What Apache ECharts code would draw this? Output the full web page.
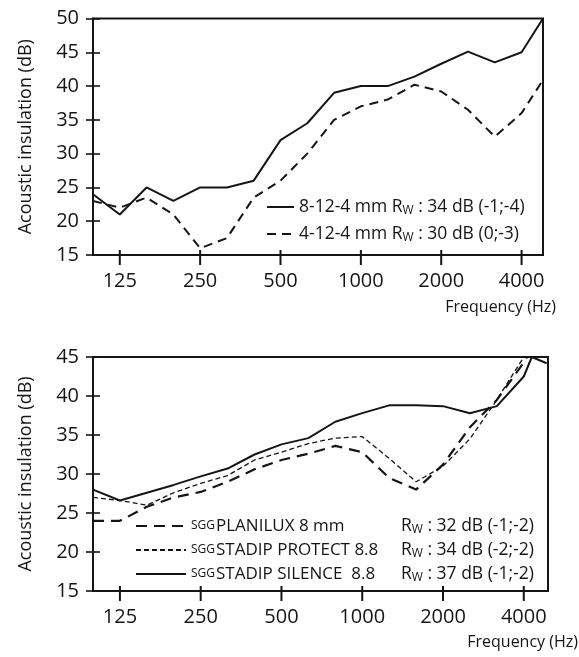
<!DOCTYPE html>
<html>
<head>
<meta charset="utf-8">
<title>Acoustic insulation</title>
<script src="https://cdn.jsdelivr.net/npm/echarts@6/dist/echarts.min.js"></script>
<style>
    html, body { margin: 0; padding: 0; background: #fff; }
    #chart { width: 579px; height: 657px; }
</style>
</head>
<body>
<div id="chart"></div>
<script>
    // third-octave bands on x: 0 = 100 Hz, 1 = 125 Hz ... 16 = 4000 Hz
    var bandPos = [0, 1, 2, 3, 4, 5, 6, 7, 8, 9, 10, 11, 12, 13, 14, 15, 16];
    var tickPos = [1, 4, 7, 10, 13, 16];
    var tickLabels = ['125', '250', '500', '1000', '2000', '4000'];

    // upper chart (last point sits on the right frame)
    var topPos = bandPos.concat([16.8]);
    var glass8124 = [24, 21, 25, 23, 25, 25, 26, 32, 34.5, 39, 40, 40, 41.4, 43.3, 45.1, 43.5, 45, 50];
    var glass4124 = [23, 22, 23.5, 21, 16, 17.5, 23.5, 26, 30, 35, 37, 38, 40.2, 39.2, 36.5, 32.5, 36, 40.9];
    var topNames = ['8-12-4 mm', '4-12-4 mm'];
    var topRw = ['34 dB (-1;-4)', '30 dB (0;-3)'];

    // lower chart
    var planilux = [24, 24, 25.8, 27, 27.7, 29, 30.6, 31.8, 32.6, 33.6, 32.8, 29.5, 28, 31.2, 36, 39.5, 44.3];
    var protect = [27, 26.6, 26, 27.6, 28.8, 29.8, 31.8, 32.8, 33.9, 34.6, 34.8, 32, 29, 31, 34.5, 39.5, 45];
    var silence = [28, 26.6, 27.6, 28.6, 29.7, 30.7, 32.5, 33.8, 34.6, 36.7, 37.8, 38.8, 38.8, 38.7, 37.8, 38.7, 42.5];
    var planiluxEnd = [[16.12, 45]];
    var silenceEnd = [[16.3, 45], [16.85, 44.2]];
    var botNames = ['PLANILUX 8 mm', 'STADIP PROTECT 8.8', 'STADIP SILENCE  8.8'];
    var botRw = ['32 dB (-1;-2)', '34 dB (-2;-2)', '37 dB (-1;-2)'];

    var FONT = "'Open Sans', 'DejaVu Sans', sans-serif";
    var INK = '#151515';

    function zip(xs, ys) {
        return ys.map(function (y, i) { return [xs[i], y]; });
    }

    function xAxis(gridIndex, max, nameGap, namePad) {
        return {
            type: 'value', gridIndex: gridIndex, position: 'bottom', min: 0, max: max,
            name: 'Frequency (Hz)', nameLocation: 'end', nameGap: nameGap,
            nameTextStyle: {
                color: INK, fontFamily: FONT, fontSize: 16,
                align: 'right', verticalAlign: 'top', padding: [namePad, 0, 0, 0]
            },
            axisLine: {onZero: false, lineStyle: {color: INK, width: 2}},
            axisTick: {show: false},
            axisLabel: {
                customValues: tickPos, margin: 16, color: INK, fontFamily: FONT, fontSize: 20,
                formatter: function (v) { return tickLabels[tickPos.indexOf(v)]; }
            },
            splitLine: {show: false}
        };
    }

    // two y axes per grid: outer ticks + labels, then inner ticks
    function yAxes(gridIndex, min, max) {
        return [{
            type: 'value', gridIndex: gridIndex, position: 'left', min: min, max: max, interval: 5,
            name: 'Acoustic insulation (dB)', nameLocation: 'middle', nameGap: 58,
            nameTextStyle: {color: INK, fontFamily: FONT, fontSize: 18},
            axisLine: {show: true, onZero: false, lineStyle: {color: INK, width: 2}},
            axisTick: {show: true, length: 7, lineStyle: {color: INK, width: 1.6}},
            axisLabel: {margin: 14, color: INK, fontFamily: FONT, fontSize: 20},
            splitLine: {show: false}
        }, {
            type: 'value', gridIndex: gridIndex, position: 'left', min: min, max: max, interval: 5,
            axisLine: {show: false},
            axisTick: {show: true, inside: true, length: 7, lineStyle: {color: INK, width: 1.6}},
            axisLabel: {show: false},
            splitLine: {show: false}
        }];
    }

    function line(name, data, gi, width, type) {
        return {
            type: 'line', name: name, xAxisIndex: gi, yAxisIndex: gi * 2, data: data,
            symbol: 'none', silent: true,
            lineStyle: {color: INK, width: width, type: type},
            itemStyle: {color: INK}
        };
    }

    // frequency ticks crossing the x axis line (5 px in, 10 px out)
    function xTicks(gi) {
        return {
            type: 'custom', name: 'ticks' + gi, xAxisIndex: gi, yAxisIndex: gi * 2,
            silent: true, clip: false, z: 5,
            data: tickPos.map(function (p) { return [p, 15]; }),
            renderItem: function (params, api) {
                var pt = api.coord([api.value(0), api.value(1)]);
                return {
                    type: 'line',
                    shape: {x1: pt[0], y1: pt[1] - 5, x2: pt[0], y2: pt[1] + 10},
                    style: {stroke: INK, lineWidth: 2}
                };
            }
        };
    }

    var richBase = {color: INK, fontFamily: FONT};
    var noDot = {color: 'rgba(0,0,0,0)', borderWidth: 0};

    var chart = echarts.init(document.getElementById('chart'));
    chart.setOption({
        animation: false,
        backgroundColor: '#fff',
        grid: [
            {left: 93, right: 36, top: 18.5, height: 236.5, show: true, borderColor: INK, borderWidth: 2},
            {left: 93, right: 31, top: 357, height: 234, show: true, borderColor: INK, borderWidth: 2}
        ],
        xAxis: [xAxis(0, 16.8, 13, 44), xAxis(1, 16.9, 30, 43)],
        yAxis: yAxes(0, 15, 50).concat(yAxes(1, 15, 45)),
        legend: [{
            data: topNames, orient: 'vertical', left: 261, top: 193, padding: 5,
            itemWidth: 27, itemHeight: 14, itemGap: 8, itemStyle: noDot,
            formatter: function (name) {
                var i = topNames.indexOf(name);
                return '{t|' + name + ' R}{w|W}{t| : ' + topRw[i] + '}';
            },
            textStyle: {
                color: INK, fontFamily: FONT,
                rich: {
                    t: Object.assign({fontSize: 17.5, lineHeight: 20}, richBase),
                    w: Object.assign({fontSize: 12, lineHeight: 20, verticalAlign: 'bottom'}, richBase)
                }
            }
        }, {
            data: botNames, orient: 'vertical', left: 130, top: 512, padding: 5,
            itemWidth: 50, itemHeight: 14, itemGap: 5, itemStyle: noDot,
            formatter: function (name) {
                var i = botNames.indexOf(name);
                return '{sg|SGG}{n|' + name + '}{t|R}{w|W}{t| : ' + botRw[i] + '}';
            },
            textStyle: {
                color: INK, fontFamily: FONT,
                rich: {
                    sg: Object.assign({fontSize: 12, lineHeight: 20, width: 25}, richBase),
                    n: Object.assign({fontSize: 17, lineHeight: 20, width: 185}, richBase),
                    t: Object.assign({fontSize: 17.5, lineHeight: 20}, richBase),
                    w: Object.assign({fontSize: 12, lineHeight: 20, verticalAlign: 'bottom'}, richBase)
                }
            }
        }],
        series: [
            line(topNames[0], zip(topPos, glass8124), 0, 2, 'solid'),
            line(topNames[1], zip(topPos, glass4124), 0, 2, [9, 6]),
            line(botNames[0], zip(bandPos, planilux).concat(planiluxEnd), 1, 2.2, [11, 7]),
            line(botNames[1], zip(bandPos, protect), 1, 1.3, [5, 3]),
            line(botNames[2], zip(bandPos, silence).concat(silenceEnd), 1, 2, 'solid'),
            xTicks(0),
            xTicks(1)
        ]
    });
</script>
</body>
</html>
